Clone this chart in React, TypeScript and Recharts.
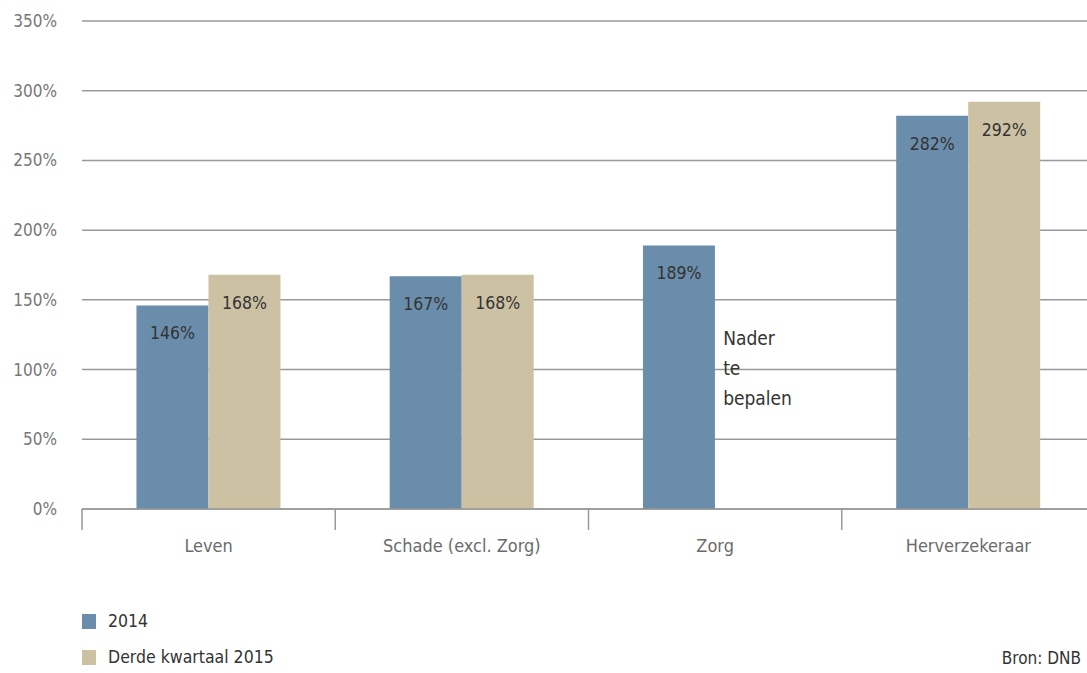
import { BarChart, Bar, XAxis, YAxis, CartesianGrid, LabelList, ReferenceDot } from 'recharts';

const categories = ['Leven', 'Schade (excl. Zorg)', 'Zorg', 'Herverzekeraar'];
const values2014 = [146, 167, 189, 282];
const values2015: (number | null)[] = [168, 168, null, 292];
const yTicks = [0, 50, 100, 150, 200, 250, 300, 350];
const seriesNames = ['2014', 'Derde kwartaal 2015'];
const pendingNote = ['Nader', 'te', 'bepalen'];
const source = 'Bron: DNB';

const data = categories.map((name, i) => ({
  name,
  v2014: values2014[i],
  v2015: values2015[i],
}));

const FONT = '"DejaVu Sans Condensed", "Liberation Sans Narrow", "Roboto", sans-serif';
const BLUE = '#6a8dab';
const BEIGE = '#cdc1a3';
const GRID = '#999';

const CHART_W = 1100;
const Y_W = 82;
const M_RIGHT = 5;
const PLOT_W = CHART_W - Y_W - M_RIGHT;
const BAND = PLOT_W / categories.length;

const XTick = (props: any) => {
  const { x, y, payload } = props;
  const bx = x - BAND / 2;
  return (
    <g>
      <line x1={bx} y1={y} x2={bx} y2={y + 21} stroke={GRID} strokeWidth={1.5} />
      <text x={x} y={y + 36} textAnchor="middle" dominantBaseline="central" fill="#6b6b6b" fontSize={18} fontFamily={FONT}>
        {payload.value}
      </text>
    </g>
  );
};

const ValueLabel = (props: any) => {
  const { x, y, width, value } = props;
  if (value == null) return null;
  return (
    <text x={x + width / 2} y={y + 28} textAnchor="middle" dominantBaseline="central" fill="#333" fontSize={17.5} fontFamily={FONT}>
      {value}%
    </text>
  );
};

const NoteShape = (props: any) => {
  const { cx, cy } = props;
  return (
    <g>
      {pendingNote.map((line, i) => (
        <text key={line} x={cx + 8} y={cy + i * 30} dominantBaseline="central" fill="#333" fontSize={19} fontFamily={FONT}>
          {line}
        </text>
      ))}
    </g>
  );
};

const App = () => {
  return (
    <div style={{ position: 'absolute', left: 0, top: 0, width: 1087, height: 673, overflow: 'hidden', background: '#fff', fontFamily: FONT }}>
      <BarChart
        width={CHART_W}
        height={560}
        data={data}
        margin={{ top: 21, right: M_RIGHT, left: 0, bottom: 0 }}
        barCategoryGap="21.5%"
        barGap={0}
      >
        <CartesianGrid vertical={false} stroke={GRID} strokeWidth={1.5} />
        <XAxis
          dataKey="name"
          height={51}
          axisLine={{ stroke: GRID, strokeWidth: 1.5 }}
          tickLine={false}
          tickSize={0}
          tickMargin={0}
          tick={<XTick />}
          interval={0}
        />
        <YAxis
          width={Y_W}
          domain={[0, 350]}
          ticks={yTicks}
          axisLine={false}
          tickLine={false}
          tickSize={0}
          tickMargin={25}
          tickFormatter={(v: number) => `${v}%`}
          tick={{ fill: '#777', fontSize: 17, fontFamily: FONT }}
        />
        <Bar dataKey="v2014" fill={BLUE} isAnimationActive={false}>
          <LabelList dataKey="v2014" content={<ValueLabel />} />
        </Bar>
        <Bar dataKey="v2015" fill={BEIGE} isAnimationActive={false}>
          <LabelList dataKey="v2015" content={<ValueLabel />} />
        </Bar>
        <ReferenceDot x="Zorg" y={123} r={0} shape={<NoteShape />} />
      </BarChart>
      <div style={{ position: 'absolute', left: 82, top: 603, fontSize: 17.5, color: '#333', lineHeight: '36px' }}>
        {seriesNames.map((s, i) => (
          <div key={s} style={{ display: 'flex', alignItems: 'center' }}>
            <span style={{ display: 'inline-block', width: 14, height: 15, background: i === 0 ? BLUE : BEIGE, marginRight: 12 }} />
            {s}
          </div>
        ))}
      </div>
      <div style={{ position: 'absolute', right: 6, top: 648, fontSize: 17, color: '#333', whiteSpace: 'nowrap' }}>{source}</div>
    </div>
  );
};

export default App;
